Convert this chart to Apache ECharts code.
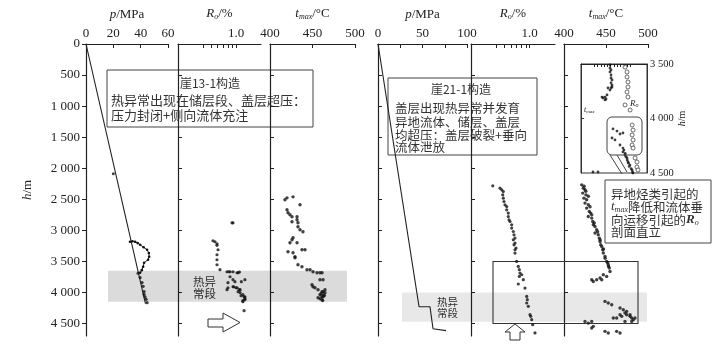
<!DOCTYPE html>
<html><head><meta charset="utf-8">
<script src="https://cdn.jsdelivr.net/npm/echarts@6/dist/echarts.min.js"></script>
<style>html,body{margin:0;padding:0;background:#fff}#c{width:725px;height:363px}</style>
</head><body><div id="c"></div>
<script>
// ---------- tick values ----------
const depthTicks = [0,500,1000,1500,2000,2500,3000,3500,4000,4500];
const leftPTicks = [0,20,40,60];
const rightPTicks = [0,25,50,75,100];
const rightPLabels = [0,50,100];
const roTicks = [0.4,0.5,0.6,0.7,0.8,0.9,1.0];
const roLabels = [1.0];
const tmaxTicks = [400,450,500];
const insetDepthTicks = [3500,4000,4500];
const insetTmaxTicks = [420,425,430,435,440,445,450,455,460,465,470,475];

// ---------- 崖13-1 ----------
const yaHydroLine = [[0,0],[43.5,4180]];
const yaHydroDot = [[20,2090]];
const yaPressureProfile = [[32.2,3183],[34.0,3175],[35.9,3183],[37.8,3205],[39.6,3232],[42.2,3272],[44.7,3312],[46.0,3365],[46.2,3424],[45.4,3473],[42.5,3521],[41.8,3585],[40.8,3640],[39.6,3682]];
const yaPressureDots = [[38.1,3690],[39.6,3760],[41.0,3840],[41.8,3900],[42.5,3985],[42.5,4030],[43.2,4070],[44.0,4110],[44.7,4164]];
const yaRo = [[0.895,2878],[0.92,2878],[0.528,3167],[0.558,3183],[0.59,3215],[0.59,3240],[0.607,3312],[0.59,3392],[0.59,3473],[0.59,3553],[0.641,3633],[0.779,3666],[0.82,3666],[0.847,3666],[0.92,3666],[1.03,3682],[1.06,3682],[1.1,3670],[0.847,3746],[0.92,3794],[1.28,3794],[0.97,3826],[1.16,3826],[0.8,3842],[0.92,3907],[0.94,3907],[0.8,3923],[1.0,3923],[1.03,3923],[0.779,3955],[1.09,3955],[1.12,3955],[1.06,3987],[1.12,4003],[1.21,4035],[1.15,4051],[1.28,4068],[1.25,4068],[1.28,4100],[1.28,4116],[1.21,4132],[1.21,4148],[1.25,4293]];
const yaTmax = [[417.6,2508],[420,2476],[427.1,2460],[435.3,2588],[420,2669],[421.2,2717],[423.5,2749],[425.9,2781],[431.8,2781],[431.8,2830],[425.9,2862],[432.9,2878],[432.9,2942],[435.3,2990],[438.8,3023],[425.9,3151],[427.1,3119],[423.5,3199],[431.8,3199],[421.2,3344],[427.1,3360],[429.4,3424],[429.4,3441],[437.6,3312],[441.2,3312],[432.9,3553],[437.6,3585],[443.5,3633],[447.1,3633],[450.6,3666],[455.3,3682],[458.8,3682],[461.2,3682],[458.8,3794],[462.4,3794],[449.4,3875],[450.6,3907],[452.9,3923],[456.5,3955],[461.2,3987],[462.4,3987],[464.7,4003],[458.8,4035],[461.2,4068],[456.5,4084],[461.2,4116],[462.4,4068],[464.7,3955],[460,4020],[463,4040],[459,4100],[462,4130],[464,4050]];
const yaAnomaly = [3650,4150];

// ---------- 崖21-1 ----------
const ybPressure = [[0,0],[46.1,4228],[58.4,4228],[61.8,4582],[76.4,4614]];
const ybRo = [[0.363,2283],[0.443,2320],[0.464,2347],[0.485,2375],[0.477,2428],[0.485,2481],[0.494,2535],[0.508,2588],[0.532,2616],[0.532,2669],[0.556,2722],[0.556,2777],[0.567,2830],[0.583,2857],[0.61,2910],[0.61,2963],[0.638,3018],[0.65,3071],[0.668,3124],[0.638,3151],[0.668,3204],[0.65,3232],[0.687,3285],[0.668,3312],[0.668,3365],[0.7,3500],[0.731,3580],[0.752,3633],[0.766,3687],[0.803,3714],[0.752,3741],[0.839,3794],[0.731,3863],[0.879,3928],[0.921,4063],[0.936,4116],[0.921,4169],[0.962,4223],[1.008,4357],[1.027,4384],[1.056,4437],[1.085,4518],[1.156,4651]];
const ybTmax = [[421.1,2267],[424,2290],[423.0,2320],[425,2347],[426,2370],[422.3,2400],[426.2,2428],[429,2450],[423.8,2481],[427.0,2508],[425,2561],[428.9,2588],[431,2620],[427.0,2641],[430.1,2696],[431.8,2722],[433,2750],[428.9,2777],[433.0,2802],[434.2,2857],[436,2880],[434.9,2910],[436.9,2937],[438.9,2990],[440,3020],[436.9,3043],[440.8,3071],[442.0,3124],[443,3150],[442.9,3178],[443.7,3232],[444.9,3259],[447,3300],[446.1,3312],[446.8,3365],[448.8,3420],[449,3450],[450.8,3500],[452,3520],[452.7,3553],[453,3580],[453.9,3606],[454.8,3661],[450.8,3741],[446.8,3714],[442.9,3767],[438.9,3794],[434.9,3822],[433.0,3794],[444.9,3794],[448.8,4143],[452.7,4169],[456.8,4196],[466.7,4249],[470.6,4277],[474.6,4304],[472.6,4330],[474.6,4357],[478.6,4384],[480.6,4410],[482.5,4437],[478.6,4357],[466.7,4357],[468.7,4384],[458.7,4410],[462.7,4410],[425,4465],[428.9,4492],[433.0,4465],[434.9,4545],[433.0,4571],[448.8,4625],[452.7,4651],[462.7,4625],[466.7,4651],[472.6,4465],[480.6,4465],[484.5,4410]];
const ybAnomaly = [4000,4470];
const ybBox = [3500,4500];
const insetTmax = [[443.9,3509],[443.9,3537],[445.5,3555],[443.9,3573],[445.5,3601],[445.5,3628],[447,3647],[445.5,3674],[447,3693],[447,3711],[445.5,3720],[440.9,3720],[443.9,3739],[439.4,3784],[436.4,3803],[433.3,3812],[431.8,3803],[436.4,3830],[437.9,3821],[448.5,4096],[454.5,4115],[463.6,4133],[459.1,4142],[447,4179],[451.5,4197],[459.1,4243],[463.6,4271],[465,4290],[463.6,4307],[467,4320],[466.7,4335],[468,4350],[469.7,4362],[470,4380],[471.2,4399],[472,4410],[474.2,4427],[473,4440],[476,4460],[477.3,4472],[478,4490],[478.8,4500],[418.2,4491],[425.8,4491]];
const insetRo = [[0.93,3528],[0.996,3573],[0.996,3619],[1.03,3665],[1.03,3711],[0.996,3757],[1.03,3803],[0.93,3876],[1.11,3922],[1.19,4060],[1.23,4106],[1.19,4151],[1.23,4197],[1.19,4243],[1.23,4271],[1.32,4362],[1.41,4399],[1.41,4445],[1.46,4472]];

// ---------- styling ----------
const SERIF = 'Liberation Serif';
const CJK = 'Noto Sans CJK SC';
const INK = '#222';
const TXT = '#333';
const mainTop = 44, mainH = 292;

function isObj(o){return o && typeof o==='object' && !Array.isArray(o);}
function merge(a,b){const r=Object.assign({},a);for(const k in b){r[k]=(isObj(a[k])&&isObj(b[k]))?merge(a[k],b[k]):b[k];}return r;}
function fmtDepth(v){v=Math.round(v);return v>=1000?Math.floor(v/1000)+' '+String(v%1000).padStart(3,'0'):String(v);}

const nameStyle = {
  color: INK, fontFamily: SERIF, fontSize: 13,
  rich: {
    i: {fontStyle:'italic', fontFamily: SERIF, fontSize: 13, color: INK},
    s: {fontStyle:'italic', fontFamily: SERIF, fontSize: 8, color: INK, padding:[6,0,0,0]},
    n: {fontFamily: SERIF, fontSize: 13, color: INK}
  }
};
const baseTop = {
  type:'value', position:'top',
  axisLine:{show:true, onZero:false, lineStyle:{color:INK, width:1.2}},
  axisTick:{show:true, inside:true, length:4, lineStyle:{color:INK, width:1}},
  axisLabel:{color:INK, fontFamily:SERIF, fontSize:13, margin:4},
  splitLine:{show:false}, minorTick:{show:false},
  nameLocation:'middle', nameGap:23, nameTextStyle:nameStyle
};
const baseDepth = {
  type:'value', inverse:true, min:0, max:4700,
  axisLine:{show:true, onZero:false, lineStyle:{color:INK, width:1.2}},
  axisTick:{show:true, inside:true, length:4, customValues:depthTicks, lineStyle:{color:INK}},
  axisLabel:{show:false},
  splitLine:{show:false}
};
const hiddenX = gi => ({gridIndex:gi, type:'value', min:0, max:1, show:false});
const hiddenY = gi => ({gridIndex:gi, type:'value', inverse:true, min:0, max:4700, show:false});

const roAxis = gi => merge(baseTop, {gridIndex:gi, type:'log', logBase:10, min:0.2, max:2,
  name:'{i|R}{s|o}{n|/%}',
  axisTick:{customValues:roTicks}, axisLabel:{customValues:roLabels, formatter:v=>Number(v).toFixed(1)}});
const tmaxAxis = gi => merge(baseTop, {gridIndex:gi, min:400, max:500, interval:50,
  name:'{i|t}{s|max}{n|/°C}', axisTick:{customValues:tmaxTicks}, axisLabel:{customValues:tmaxTicks}});

const grids = [
  {left:86, top:mainTop, width:82, height:mainH},
  {left:178, top:mainTop, width:83, height:mainH},
  {left:270, top:mainTop, width:85, height:mainH},
  {left:378, top:mainTop, width:89, height:mainH},
  {left:471, top:mainTop, width:84, height:mainH},
  {left:564, top:mainTop, width:84, height:mainH},
  {left:581, top:64, width:66, height:109, show:true, backgroundColor:'#fff', borderColor:'#333', borderWidth:1, z:3},
  {left:108, top:mainTop, width:239, height:mainH},
  {left:402, top:mainTop, width:245, height:mainH},
  {left:493, top:mainTop, width:145, height:mainH}
];

const xAxes = [
  merge(baseTop, {gridIndex:0, min:0, max:60, interval:20, name:'{i|p}{n|/MPa}', axisTick:{customValues:leftPTicks}, axisLabel:{customValues:leftPTicks}}),
  roAxis(1),
  tmaxAxis(2),
  merge(baseTop, {gridIndex:3, min:0, max:100, interval:25, name:'{i|p}{n|/MPa}', axisTick:{customValues:rightPTicks}, axisLabel:{customValues:rightPLabels}}),
  roAxis(4),
  tmaxAxis(5),
  merge(baseTop, {gridIndex:6, min:400, max:500, name:'', z:4,
    axisLine:{lineStyle:{width:1}}, axisTick:{length:3, customValues:insetTmaxTicks}, axisLabel:{show:false}}),
  {gridIndex:6, type:'log', logBase:10, min:0.2, max:2, show:false},
  hiddenX(7), hiddenX(8), hiddenX(9)
];

const yAxes = [
  merge(baseDepth, {gridIndex:0, axisTick:{inside:false, length:4},
    axisLabel:{show:true, customValues:depthTicks, formatter:fmtDepth, color:INK, fontFamily:SERIF, fontSize:13, margin:6},
    name:'{i|h}{n|/m}', nameLocation:'middle', nameGap:52, nameRotate:90, nameTextStyle:nameStyle}),
  merge(baseDepth, {gridIndex:1}),
  merge(baseDepth, {gridIndex:2}),
  merge(baseDepth, {gridIndex:3}),
  merge(baseDepth, {gridIndex:4}),
  merge(baseDepth, {gridIndex:5}),
  {gridIndex:6, type:'value', inverse:true, min:3500, max:4500, position:'right', z:4,
    axisLine:{show:true, onZero:false, lineStyle:{color:'#333', width:1}},
    axisTick:{show:false},
    axisLabel:{show:true, customValues:insetDepthTicks, formatter:fmtDepth, color:INK, fontFamily:SERIF, fontSize:10.5, margin:3},
    splitLine:{show:false},
    name:'{i|h}{n|/m}', nameLocation:'middle', nameGap:28, nameRotate:90,
    nameTextStyle:merge(nameStyle,{fontSize:10, rich:{i:{fontSize:10}, n:{fontSize:10}}})},
  {gridIndex:6, type:'value', inverse:true, min:3500, max:4500, position:'left', z:4,
    axisLine:{show:true, onZero:false, lineStyle:{color:'#333', width:1}},
    axisTick:{show:true, inside:true, length:3, customValues:[4000], lineStyle:{color:'#333'}},
    axisLabel:{show:false}, splitLine:{show:false}},
  hiddenY(7), hiddenY(8), hiddenY(9)
];

const dot = (xi, yi, data, size) => ({type:'scatter', xAxisIndex:xi, yAxisIndex:yi, data, symbol:'circle', symbolSize:size||3.2, itemStyle:{color:'#111'}, silent:true, z:3});

const series = [
  {type:'line', xAxisIndex:0, yAxisIndex:0, data:yaHydroLine, symbol:'none', lineStyle:{color:INK, width:1.1}, silent:true, z:3},
  dot(0,0,yaHydroDot,3),
  {type:'line', xAxisIndex:0, yAxisIndex:0, data:yaPressureProfile, symbol:'circle', symbolSize:2.6, itemStyle:{color:'#111'}, lineStyle:{color:INK, width:1}, silent:true, z:3},
  dot(0,0,yaPressureDots,3.2),
  dot(1,1,yaRo,3.2),
  dot(2,2,yaTmax,3.4),
  {type:'line', xAxisIndex:3, yAxisIndex:3, data:ybPressure, symbol:'none', lineStyle:{color:INK, width:1.1}, silent:true, z:3},
  dot(4,4,ybRo,3.2),
  dot(5,5,ybTmax,3.4),
  Object.assign(dot(6,6,insetTmax,2.8), {z:5}),
  {type:'scatter', xAxisIndex:7, yAxisIndex:6, data:insetRo, symbol:'circle', symbolSize:4, itemStyle:{color:'#fff', borderColor:'#333', borderWidth:0.9}, silent:true, z:5},
  {type:'scatter', xAxisIndex:8, yAxisIndex:8, data:[], silent:true, z:1,
    markArea:{silent:true, itemStyle:{color:'rgba(0,0,0,0.14)'}, data:[[{yAxis:yaAnomaly[0]},{yAxis:yaAnomaly[1]}]]}},
  {type:'scatter', xAxisIndex:9, yAxisIndex:9, data:[], silent:true, z:1,
    markArea:{silent:true, itemStyle:{color:'rgba(0,0,0,0.09)'}, data:[[{yAxis:ybAnomaly[0]},{yAxis:ybAnomaly[1]}]]}},
  {type:'scatter', xAxisIndex:10, yAxisIndex:10, data:[], silent:true, z:2,
    markArea:{silent:true, itemStyle:{color:'rgba(0,0,0,0)', borderColor:'#333', borderWidth:1.1}, data:[[{yAxis:ybBox[0]},{yAxis:ybBox[1]}]]}}
];

// ---------- annotations ----------
const cjk = (x,y,text,size,extra) => ({type:'text', x, y, style:Object.assign({text, fill:TXT, font:`${size||12.5}px "${CJK}"`, textVerticalAlign:'middle'}, extra||{})});
const richCommon = {
  i:{fontStyle:'italic', fontFamily:SERIF, fontSize:13, fill:TXT},
  bi:{fontStyle:'italic', fontWeight:'bold', fontFamily:SERIF, fontSize:13, fill:TXT},
  s:{fontStyle:'italic', fontFamily:SERIF, fontSize:8, fill:TXT, padding:[6,0,0,0]},
  c:{fontFamily:CJK, fontSize:12.5, fill:TXT}
};
const graphic = [
  {type:'group', x:107, y:70, z:100, children:[
    {type:'rect', shape:{x:0,y:0,width:206,height:57}, style:{fill:'#fff', stroke:'#444', lineWidth:1}},
    cjk(103,13,'崖13-1构造',12,{textAlign:'center'}),
    cjk(4,30,'热异常出现在储层段、盖层超压：',13),
    cjk(4,45,'压力封闭+侧向流体充注',13)
  ]},
  {type:'group', x:388, y:78, z:100, children:[
    {type:'rect', shape:{x:0,y:0,width:149,height:77}, style:{fill:'#fff', stroke:'#444', lineWidth:1}},
    cjk(73,11,'崖21-1构造',12,{textAlign:'center'}),
    cjk(7,30,'盖层出现热异常并发育'),
    cjk(7,44,'异地流体、储层、盖层'),
    cjk(7,57,'均超压：盖层破裂+垂向'),
    cjk(7,69,'流体泄放')
  ]},
  {type:'group', x:605, y:180, z:100, children:[
    {type:'rect', shape:{x:0,y:0,width:106,height:63}, style:{fill:'#fff', stroke:'#444', lineWidth:1}},
    cjk(6,14,'异地烃类引起的'),
    {type:'text', x:6, y:27, style:{text:'{i|t}{s|max}{c|降低和流体垂}', rich:richCommon, textVerticalAlign:'middle', fill:TXT}},
    {type:'text', x:6, y:40, style:{text:'{c|向运移引起的}{bi|R}{s|o}', rich:richCommon, textVerticalAlign:'middle', fill:TXT}},
    cjk(6,52,'剖面直立')
  ]},
  cjk(193,282,'热异',11.5),
  cjk(193,294,'常段',11.5),
  cjk(437,302,'热异',10.5),
  cjk(437,313,'常段',10.5),
  {type:'polygon', z:100, shape:{points:[[208,319],[223,319],[223,313],[240,322.5],[223,332],[223,327],[208,327]]}, style:{fill:'#fff', stroke:'#333', lineWidth:1}},
  {type:'polygon', z:100, shape:{points:[[515,324],[525,332],[520,332],[520,340],[510,340],[510,332],[505,332]]}, style:{fill:'#fff', stroke:'#333', lineWidth:1}},
  {type:'rect', z:120, shape:{x:607,y:117,width:35,height:38,r:5}, style:{fill:'none', stroke:'#444', lineWidth:1}},
  {type:'line', z:120, shape:{x1:610,y1:155,x2:622,y2:174}, style:{stroke:'#444', lineWidth:1}},
  {type:'line', z:120, shape:{x1:617,y1:155,x2:627,y2:172}, style:{stroke:'#444', lineWidth:1}},
  {type:'text', x:584, y:110, z:120, style:{text:'{i|t}{s|max}', rich:{i:{fontStyle:'italic',fontFamily:SERIF,fontSize:8,fill:INK}, s:{fontStyle:'italic',fontFamily:SERIF,fontSize:5,fill:INK,padding:[3,0,0,0]}}, textVerticalAlign:'middle'}},
  {type:'text', x:630, y:104, z:120, style:{text:'{i|R}{s|o}', rich:{i:{fontStyle:'italic',fontFamily:SERIF,fontSize:9,fill:INK}, s:{fontStyle:'italic',fontFamily:SERIF,fontSize:6,fill:INK,padding:[3,0,0,0]}}, textVerticalAlign:'middle'}}
];

const chart = echarts.init(document.getElementById('c'), null, {renderer:'canvas', width:725, height:363});
chart.setOption({
  animation:false,
  backgroundColor:'#fff',
  grid: grids, xAxis: xAxes, yAxis: yAxes, series, graphic
});
</script>
</body></html>
